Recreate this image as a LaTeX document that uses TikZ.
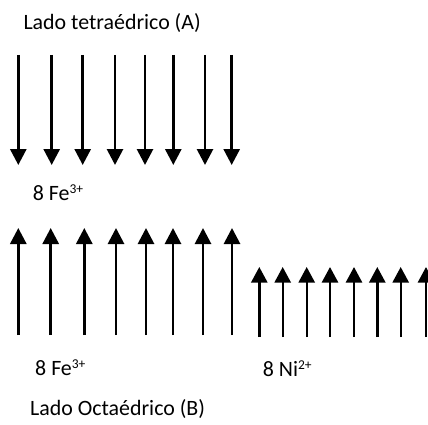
\documentclass[tikz,border=0pt]{standalone}
\usepackage{fontspec}
\setmainfont{Carlito}
\usetikzlibrary{arrows.meta}
\newcommand{\supr}[1]{\raisebox{7pt}{\fontsize{13.5}{15}\selectfont #1}}
\begin{document}
\begin{tikzpicture}[x=1pt,y=-1pt,
  lbl/.style={anchor=base west,inner sep=0pt,font=\fontsize{21.9}{24}\selectfont},
  spin/.style={line width=2.8pt,-{Triangle[width=16pt 0 0,length=16pt 0 0]}},
  smallspin/.style={line width=2.4pt,-{Triangle[width=16pt 0 0,length=15.5pt 0 0]}}]
\useasboundingbox (0,0) rectangle (428,425);
\node[lbl] (titleA) at (23.3,30) {Lado tetraédrico (A)};
\node[lbl] (feA) at (32.7,200) {8 Fe\supr{3+}};
\node[lbl] (feB) at (35,375) {8 Fe\supr{3+}};
\node[lbl] (niB) at (262.7,376) {8 Ni\supr{2+}};
\node[lbl] (titleB) at (30,415) {Lado Octaédrico (B)};
\foreach \x [count=\i] in {18.3,51.7,82.7,115,145,173.3,205,231.7}{
  \coordinate (dA\i) at (\x,55);
  \coordinate (tA\i) at (\x,165);
  \draw[spin] (dA\i) -- (tA\i);
}
\foreach \x [count=\i] in {18.3,50.7,84.3,116,146,173,203,232}{
  \coordinate (bB\i) at (\x,335);
  \coordinate (tB\i) at (\x,228);
  \draw[spin] (bB\i) -- (tB\i);
}
\foreach \x [count=\i] in {259.3,282.7,306.7,330,354,377.3,400.7,426}{
  \coordinate (bN\i) at (\x,337);
  \coordinate (tN\i) at (\x,267);
  \draw[smallspin] (bN\i) -- (tN\i);
}
\end{tikzpicture}
\end{document}
